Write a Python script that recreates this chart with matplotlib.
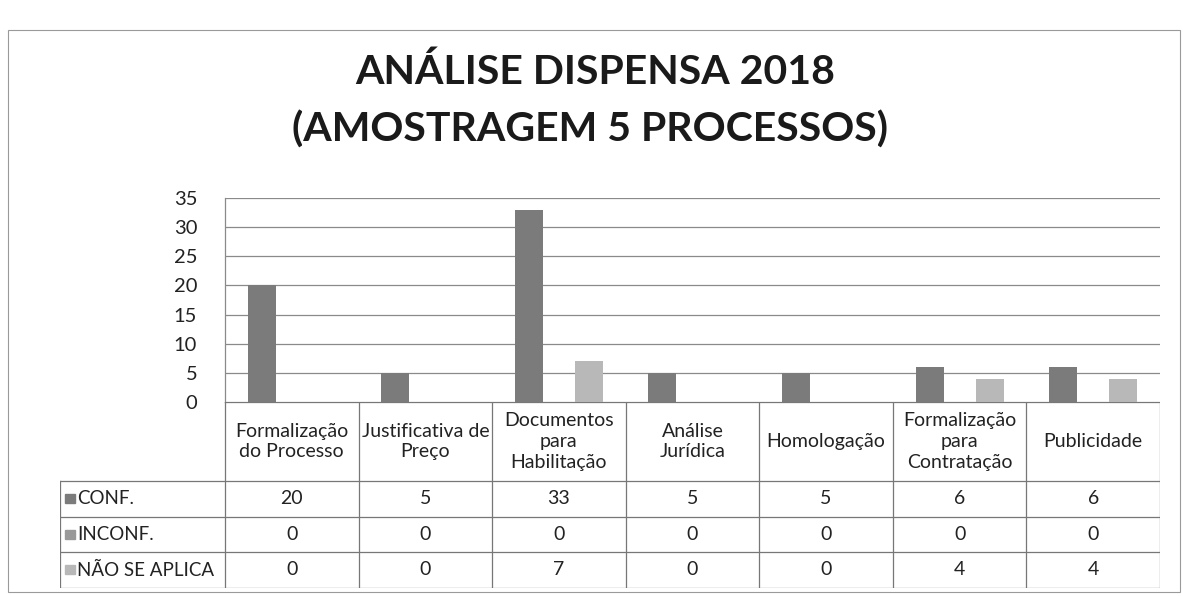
import matplotlib
matplotlib.use("Agg")
import matplotlib.pyplot as plt
from matplotlib.patches import Rectangle
import numpy as np

plt.rcParams['font.family'] = ['Lato', 'DejaVu Sans']

categories = ["Formalização\ndo Processo", "Justificativa de\nPreço", "Documentos\npara\nHabilitação",
              "Análise\nJurídica", "Homologação", "Formalização\npara\nContratação", "Publicidade"]
series_names = ["CONF.", "INCONF.", "NÃO SE APLICA"]
conf = [20, 5, 33, 5, 5, 6, 6]
inconf = [0, 0, 0, 0, 0, 0, 0]
nao_aplica = [0, 0, 7, 0, 0, 4, 4]
yticks = [0, 5, 10, 15, 20, 25, 30, 35]
colors = ["#7b7b7b", "#999999", "#b8b8b8"]

W, H = 1183, 596
fig = plt.figure(figsize=(W / 100, H / 100), dpi=100)

def px_axes(x0, y0, x1, y1):
    # pixel box (top-left origin) -> figure axes
    return fig.add_axes([x0 / W, 1 - y1 / H, (x1 - x0) / W, (y1 - y0) / H])

# outer frame
fig.patches.append(Rectangle((8 / W, 1 - 592 / H), (1180 - 8) / W, (592 - 30) / H,
                             transform=fig.transFigure, fill=False, ec="#9a9a9a", lw=0.8))

fig.text(595 / W, 1 - 72 / H, "ANÁLISE DISPENSA 2018", ha="center", va="center",
         fontsize=29.5, fontweight="bold", color="#1a1a1a")
fig.text(590 / W, 1 - 130 / H, "(AMOSTRAGEM 5 PROCESSOS)", ha="center", va="center",
         fontsize=29.5, fontweight="bold", color="#1a1a1a")

x_left, x_right = 225, 1160
ax = px_axes(x_left, 198, x_right, 402)
x = np.arange(len(categories))
w = 0.21
data = [conf, inconf, nao_aplica]
for k, vals in enumerate(data):
    ax.bar(x + (k - 1) * 0.225, vals, width=w, color=colors[k], zorder=3)
ax.set_xlim(-0.5, len(categories) - 0.5)
ax.set_ylim(0, 35)
ax.set_yticks(yticks)
ax.tick_params(axis="y", length=0, labelsize=14.5, pad=20, colors="#222222")
ax.set_xticks([])
ax.grid(axis="y", color="#8a8a8a", lw=0.9, zorder=0)
for s in ["top", "right", "bottom"]:
    ax.spines[s].set_visible(False)
ax.spines["left"].set_color("#8a8a8a")
ax.spines["left"].set_linewidth(0.9)

# data table
unit = (x_right - x_left) / len(categories)
lab_w = (x_left - 60) / unit
tax = px_axes(60, 402, x_right, 588)
tax.set_xlim(-0.5 - lab_w, len(categories) - 0.5)
row_edges = [402, 481, 517, 552, 588]
tax.set_ylim(588, 402)
tax.axis("off")
lc = "#777777"
n = len(categories)
fs = 14
# horizontal lines
tax.plot([-0.5, n - 0.5], [row_edges[0]] * 2, color=lc, lw=0.9)
for yy in row_edges[1:]:
    tax.plot([-0.5 - lab_w, n - 0.5], [yy, yy], color=lc, lw=0.9)
# vertical lines
for i in range(n + 1):
    tax.plot([i - 0.5] * 2, [row_edges[0], row_edges[-1]], color=lc, lw=0.9)
tax.plot([-0.5 - lab_w] * 2, [row_edges[1], row_edges[-1]], color=lc, lw=0.9)

for i, c in enumerate(categories):
    tax.text(i, (row_edges[0] + row_edges[1]) / 2, c, ha="center", va="center",
             fontsize=fs, linespacing=1.28, color="#222222")
for r, (name, vals) in enumerate(zip(series_names, data)):
    yc = (row_edges[r + 1] + row_edges[r + 2]) / 2
    tax.add_patch(Rectangle((-0.5 - lab_w + 0.04, yc - 4.5), 0.07, 9, color=colors[r]))
    tax.text(-0.5 - lab_w + 0.13, yc, name, ha="left", va="center", fontsize=fs - 0.5, color="#222222")
    for i, v in enumerate(vals):
        tax.text(i, yc, str(v), ha="center", va="center", fontsize=fs, color="#222222")

fig.savefig("out.png", dpi=100)
